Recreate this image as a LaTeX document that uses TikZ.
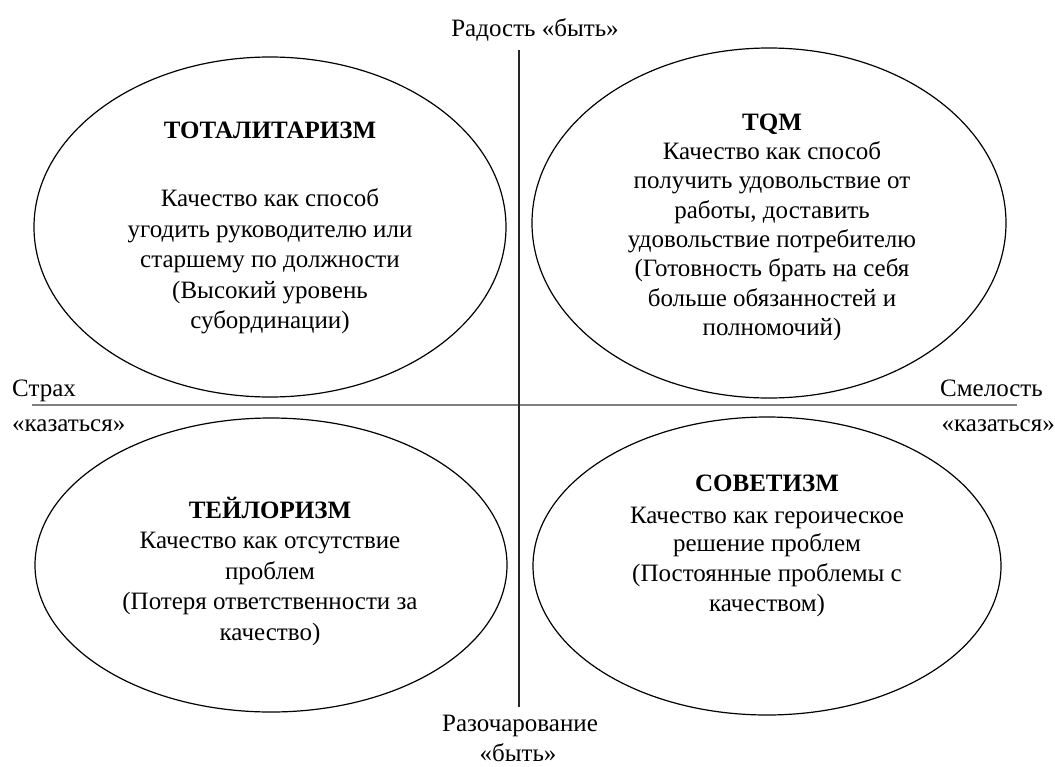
\documentclass[tikz,border=0pt]{standalone}
\usepackage{fontspec}
\setmainfont{Liberation Serif}
\usetikzlibrary{shapes.geometric}

\tikzset{
  oval/.style={ellipse, draw=black, line width=1.2pt, inner sep=0},
  blocktext/.style={align=center, inner sep=0, anchor=north,
    font=\fontsize{25}{30}\selectfont},
  axislabel/.style={inner sep=0, font=\fontsize{25}{30}\selectfont},
  vaxis/.style={draw=black!85, line width=2pt},
  haxis/.style={draw=black!50, line width=2.6pt},
}
\newcommand{\firstline}{\rule{0pt}{22pt}}

\begin{document}
\begin{tikzpicture}[x=1pt, y=-1pt]
  \useasboundingbox (0,0) rectangle (1055,766);

  % axes
  \coordinate (vtop) at (519,50);
  \coordinate (vbot) at (519,707);
  \coordinate (hleft) at (32,405);
  \coordinate (hright) at (1017,405);
  \draw[haxis] (hleft) -- (hright);
  \draw[vaxis] (vtop) -- (vbot);

  % quadrant ovals
  \node[oval, minimum width=472pt, minimum height=340pt] (tl) at (270,227) {};
  \node[oval, minimum width=474pt, minimum height=350pt] (tr) at (769,223) {};
  \node[oval, minimum width=472pt, minimum height=294pt] (bl) at (271,565) {};
  \node[oval, minimum width=468pt, minimum height=298pt] (br) at (767,566) {};

  % texts inside the ovals
  \node[blocktext, font=\fontsize{25}{30.5}\selectfont] (tltext) at (270,116) {\firstline\textbf{ТОТАЛИТАРИЗМ}\\[38pt]
    Качество как способ\\угодить руководителю или\\старшему по должности\\
    (Высокий уровень\\субординации)};
  \node[blocktext, font=\fontsize{25}{29.3}\selectfont] (trtext) at (772,108) {\firstline\textbf{TQM}\\
    Качество как способ\\получить удовольствие от\\работы, доставить\\
    удовольствие потребителю\\(Готовность брать на себя\\
    больше обязанностей и\\полномочий)};
  \node[blocktext, font=\fontsize{25}{30.5}\selectfont] (bltext) at (270,496) {\firstline\textbf{ТЕЙЛОРИЗМ}\\
    Качество как отсутствие\\проблем\\(Потеря ответственности за\\качество)};
  \node[blocktext] (brtext) at (767,469) {\firstline\textbf{СОВЕТИЗМ}\\[2pt]
    Качество как героическое\\[-2pt]решение проблем\\(Постоянные проблемы с\\качеством)};

  % axis labels
  \node[axislabel, anchor=base] (joy) at (535,36) {Радость «быть»};
  \node[axislabel, anchor=base] (disap) at (520,731) {Разочарование};
  \node[axislabel, anchor=base] (disapb) at (518,761) {«быть»};
  \node[axislabel, anchor=base west] (fear) at (12,396) {Страх};
  \node[axislabel, anchor=base west] (fearb) at (12,431) {«казаться»};
  \node[axislabel, anchor=base east] (brave) at (1043,396) {Смелость};
  \node[axislabel, anchor=base east] (braveb) at (1055,431) {«казаться»};
\end{tikzpicture}
\end{document}
